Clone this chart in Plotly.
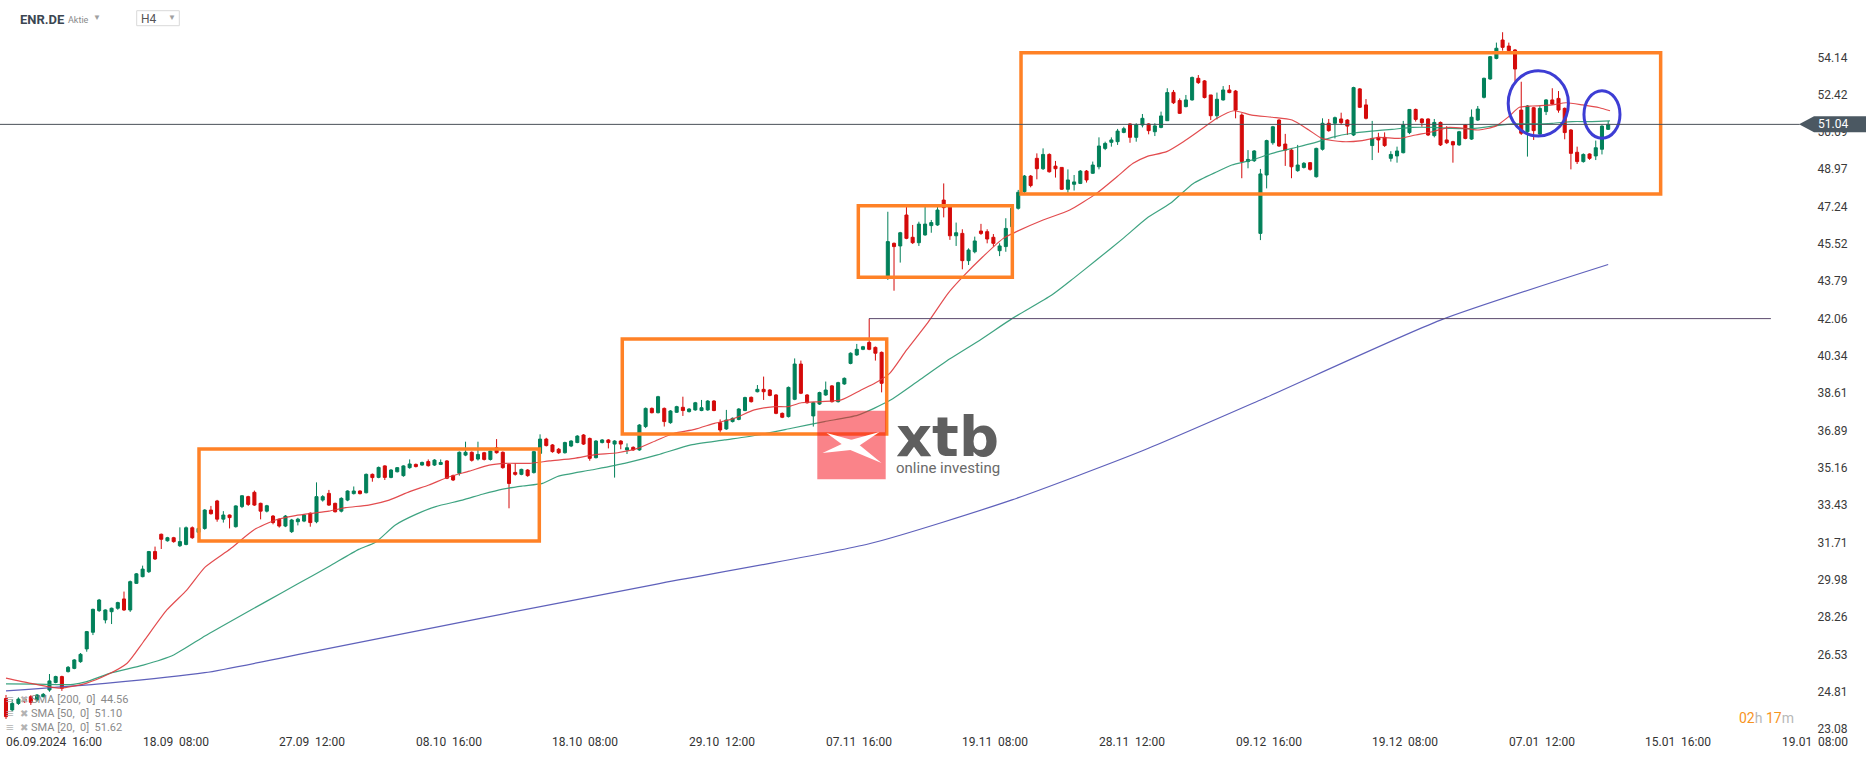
import plotly.graph_objects as go

# ---------------- data ----------------
x_labels = ["06.09.2024\u00a0 16:00", "18.09\u00a0 08:00", "27.09\u00a0 12:00", "08.10\u00a0 16:00",
            "18.10\u00a0 08:00", "29.10\u00a0 12:00", "07.11\u00a0 16:00", "19.11\u00a0 08:00",
            "28.11\u00a0 12:00", "09.12\u00a0 16:00", "19.12\u00a0 08:00", "07.01\u00a0 12:00",
            "15.01\u00a0 16:00", "19.01\u00a0 08:00"]
x_label_idx = [0, 22, 44, 66, 88, 110, 132, 154, 176, 198, 220, 242, 264, 286]

y_ticks = [54.14, 52.42, 50.69, 48.97, 47.24, 45.52, 43.79, 42.06, 40.34, 38.61,
           36.89, 35.16, 33.43, 31.71, 29.98, 28.26, 26.53, 24.81, 23.08]

open_ = [
    24.50, 23.97, 24.27, 24.46, 24.58, 24.43, 24.58, 24.89, 25.24, 25.51,
    25.74, 25.89, 26.20, 26.79, 27.56, 28.56, 28.13, 28.51, 28.67, 29.10,
    28.59, 29.82, 30.13, 30.36, 31.29, 32.09, 31.79, 31.93, 31.56, 31.62,
    32.39, 32.18, 32.36, 33.21, 33.63, 32.79, 32.98, 32.44, 33.37, 33.83,
    34.03, 33.52, 33.16, 32.93, 32.78, 32.47, 32.21, 32.67, 32.70, 33.06,
    32.67, 33.67, 33.98, 33.52, 33.16, 33.67, 33.97, 34.09, 34.01, 34.86,
    34.72, 35.25, 34.72, 34.98, 34.80, 35.17, 35.32, 35.29, 35.45, 35.29,
    35.32, 35.48, 34.80, 34.91, 35.75, 35.88, 35.57, 35.86, 35.55, 36.09,
    35.88, 35.32, 34.95, 34.86, 35.06, 34.94, 35.83, 36.49, 36.22, 36.02,
    35.86, 36.17, 36.33, 36.68, 36.52, 35.63, 36.33, 36.45, 36.26, 36.40,
    35.99, 36.11, 35.99, 37.07, 37.91, 37.71, 37.91, 37.25, 37.73, 37.96,
    37.76, 37.84, 37.81, 37.84, 38.25, 37.25, 36.96, 37.30, 37.40, 37.81,
    38.42, 38.68, 38.79, 38.76, 38.53, 37.68, 37.53, 38.33, 39.96, 38.53,
    37.56, 38.11, 38.53, 38.95, 38.22, 39.04, 39.99, 40.38, 40.64, 40.96,
    40.73, 40.50, 44.00, 45.54, 45.42, 46.85, 45.82, 45.57, 45.93, 46.36,
    46.39, 47.54, 47.24, 45.89, 46.00, 44.74, 45.15, 46.11, 46.08, 45.82,
    45.20, 45.39, 46.31, 47.16, 47.93, 48.65, 49.47, 48.99, 49.65, 49.11,
    49.05, 48.04, 48.27, 48.31, 48.88, 48.78, 49.08, 49.93, 50.21, 50.24,
    50.67, 51.06, 50.44, 51.01, 51.06, 50.70, 50.90, 51.21, 52.52, 52.14,
    51.86, 52.17, 53.17, 53.05, 52.40, 51.44, 52.17, 52.63, 52.58, 51.47,
    49.32, 49.36, 46.00, 48.70, 50.19, 51.24, 50.13, 49.85, 48.90, 49.05,
    49.27, 48.62, 49.89, 51.09, 51.09, 51.29, 51.24, 50.55, 52.68, 51.94,
    50.06, 50.44, 50.44, 49.47, 49.58, 49.73, 50.66, 51.73, 51.29, 51.29,
    50.52, 51.13, 50.32, 50.24, 50.09, 51.01, 50.36, 51.24, 52.29, 53.14,
    54.09, 54.94, 54.66, 54.48, 51.70, 50.70, 51.81, 50.59, 51.63, 52.17,
    52.24, 51.78, 50.78, 49.75, 49.32, 49.67, 49.58, 49.89, 50.81,
]
high = [
    24.66, 24.47, 24.55, 24.55, 24.65, 24.70, 24.75, 25.63, 25.55, 25.55,
    26.00, 26.32, 26.60, 27.62, 28.65, 29.10, 28.62, 28.70, 28.97, 29.44,
    29.95, 30.30, 30.64, 31.32, 31.52, 32.12, 31.97, 31.97, 32.41, 32.45,
    32.45, 32.40, 33.25, 33.40, 33.68, 33.16, 33.00, 33.43, 33.90, 33.87,
    34.11, 33.55, 33.45, 32.98, 32.82, 32.98, 32.80, 32.85, 33.02, 33.10,
    34.49, 33.90, 34.14, 33.55, 33.80, 34.12, 34.30, 34.12, 34.90, 34.90,
    35.22, 35.28, 35.10, 35.20, 35.28, 35.55, 35.36, 35.45, 35.55, 35.56,
    35.55, 35.52, 34.85, 35.92, 36.37, 35.92, 36.37, 35.90, 35.97, 36.49,
    35.92, 35.36, 35.37, 35.12, 35.10, 35.95, 36.71, 36.55, 36.26, 36.08,
    36.37, 36.44, 36.67, 36.72, 36.56, 36.44, 36.49, 36.49, 36.44, 36.44,
    36.29, 36.15, 37.18, 37.95, 37.95, 38.49, 37.95, 37.83, 38.03, 38.45,
    37.92, 38.21, 38.30, 38.29, 38.29, 37.40, 37.84, 37.49, 37.92, 38.45,
    38.46, 38.99, 39.38, 38.80, 38.57, 37.72, 38.92, 40.22, 40.12, 38.57,
    38.21, 38.68, 39.15, 38.99, 39.14, 39.34, 40.50, 40.89, 40.80, 42.06,
    40.77, 40.54, 47.00, 45.58, 46.07, 47.24, 46.39, 46.54, 47.24, 46.62,
    47.24, 48.31, 47.28, 46.50, 46.19, 45.31, 45.85, 46.44, 46.19, 45.97,
    45.54, 46.70, 47.24, 48.01, 48.70, 48.70, 49.70, 49.93, 49.70, 49.35,
    49.05, 48.96, 48.70, 48.93, 48.93, 49.32, 50.44, 50.24, 50.44, 50.83,
    50.93, 51.09, 51.09, 51.52, 51.09, 51.09, 51.63, 52.71, 52.63, 52.24,
    52.40, 53.25, 53.32, 53.09, 52.40, 52.51, 52.81, 52.86, 52.63, 51.55,
    49.85, 49.85, 48.98, 50.33, 50.97, 51.28, 50.60, 49.90, 50.09, 49.30,
    49.30, 49.96, 51.32, 51.29, 51.40, 51.58, 51.28, 52.78, 52.72, 52.21,
    51.20, 50.65, 50.67, 49.80, 50.01, 51.20, 51.75, 51.77, 51.32, 51.32,
    51.29, 51.17, 50.96, 50.28, 50.74, 51.05, 51.73, 51.89, 53.20, 54.20,
    54.82, 55.30, 54.82, 54.52, 53.01, 51.93, 51.85, 51.89, 52.21, 52.71,
    52.58, 51.82, 50.82, 50.01, 49.70, 49.70, 50.29, 51.00, 51.20,
]
low = [
    23.55, 23.89, 24.20, 24.30, 24.20, 24.35, 24.55, 24.81, 25.20, 24.85,
    25.70, 25.85, 26.15, 26.66, 27.43, 28.50, 27.97, 27.94, 28.60, 28.55,
    28.50, 29.80, 30.10, 30.30, 30.90, 31.41, 31.75, 31.70, 31.50, 31.58,
    31.88, 32.10, 32.30, 33.00, 32.67, 32.63, 32.36, 32.40, 33.30, 33.40,
    33.40, 32.78, 33.10, 32.55, 32.40, 32.42, 32.15, 32.50, 32.65, 32.44,
    32.60, 33.60, 33.40, 33.10, 33.10, 33.62, 33.93, 33.93, 33.98, 34.52,
    34.68, 34.60, 34.68, 34.95, 34.75, 35.12, 35.18, 35.26, 35.22, 35.25,
    35.29, 34.64, 34.55, 34.80, 35.70, 35.45, 35.50, 35.50, 35.50, 35.82,
    35.12, 33.29, 34.80, 34.82, 34.75, 34.90, 35.80, 36.15, 35.86, 35.80,
    35.82, 36.12, 36.30, 36.22, 35.49, 35.60, 36.29, 36.06, 34.71, 36.02,
    35.80, 35.95, 35.95, 37.00, 37.68, 37.68, 37.07, 37.20, 37.70, 37.56,
    37.72, 37.80, 37.78, 37.80, 37.78, 36.79, 36.92, 37.26, 37.36, 37.78,
    38.18, 38.65, 38.30, 38.47, 37.64, 37.46, 37.49, 38.29, 38.57, 38.13,
    37.07, 38.07, 38.49, 38.18, 38.18, 39.00, 39.95, 40.34, 40.60, 40.60,
    40.12, 38.65, 43.85, 43.35, 44.65, 45.73, 45.51, 45.42, 45.89, 46.03,
    46.35, 46.74, 45.70, 45.42, 44.34, 44.54, 45.08, 45.93, 45.54, 45.39,
    44.95, 45.15, 46.25, 47.10, 47.85, 48.13, 48.50, 48.93, 48.81, 48.58,
    48.01, 47.88, 47.98, 48.28, 48.35, 48.75, 48.96, 49.85, 50.01, 50.09,
    50.63, 50.19, 50.24, 50.90, 50.58, 50.50, 50.86, 51.21, 51.98, 51.52,
    51.83, 52.14, 52.91, 52.24, 51.24, 51.27, 52.14, 52.48, 51.32, 48.55,
    49.01, 49.30, 45.69, 48.08, 50.10, 50.00, 49.12, 48.55, 48.85, 49.00,
    48.90, 48.58, 49.83, 50.70, 50.39, 51.01, 50.55, 50.50, 51.80, 51.27,
    49.39, 49.73, 50.00, 49.32, 49.27, 49.70, 50.59, 51.17, 50.93, 50.50,
    50.44, 50.04, 50.13, 49.27, 50.05, 50.35, 50.32, 51.20, 52.24, 53.10,
    54.05, 54.45, 54.40, 53.01, 50.55, 49.55, 50.32, 50.55, 51.47, 51.94,
    51.58, 50.35, 48.96, 49.21, 49.27, 49.40, 49.39, 49.65, 50.78,
]
close = [
    23.66, 24.27, 24.47, 24.35, 24.32, 24.66, 24.69, 25.31, 25.51, 24.97,
    25.94, 26.28, 26.54, 27.59, 28.62, 29.05, 28.59, 28.67, 28.93, 28.59,
    29.90, 30.26, 30.48, 31.29, 30.95, 31.86, 31.93, 31.75, 31.75, 32.39,
    31.93, 32.36, 33.21, 33.04, 32.79, 32.98, 32.86, 33.40, 33.87, 33.47,
    33.44, 33.16, 33.41, 32.63, 32.47, 32.93, 32.75, 32.79, 32.98, 32.63,
    33.83, 33.83, 33.44, 33.13, 33.75, 34.09, 34.09, 33.97, 34.86, 34.71,
    35.18, 34.72, 35.06, 35.17, 35.25, 35.34, 35.22, 35.41, 35.26, 35.52,
    35.41, 34.68, 34.60, 35.88, 35.88, 35.51, 35.78, 35.55, 35.94, 35.86,
    35.17, 34.44, 34.86, 35.09, 34.80, 35.91, 36.49, 36.19, 35.91, 35.86,
    36.33, 36.40, 36.63, 36.26, 35.60, 36.40, 36.45, 36.33, 36.40, 36.26,
    36.09, 35.99, 37.14, 37.91, 37.71, 38.45, 37.30, 37.79, 37.99, 37.81,
    37.88, 38.17, 37.94, 38.25, 37.81, 36.91, 37.37, 37.45, 37.88, 38.41,
    38.22, 38.79, 38.68, 38.51, 37.68, 37.50, 38.88, 39.96, 38.61, 38.17,
    38.17, 38.64, 38.76, 38.22, 39.10, 39.30, 40.46, 40.64, 40.76, 40.64,
    40.46, 39.07, 45.62, 45.39, 46.03, 45.77, 45.57, 46.43, 46.43, 46.50,
    47.08, 47.19, 45.89, 46.03, 44.74, 45.23, 45.65, 46.00, 45.74, 45.54,
    45.42, 46.23, 47.16, 47.90, 48.65, 48.21, 48.99, 49.65, 48.85, 48.99,
    48.04, 48.47, 48.38, 48.88, 48.47, 49.16, 50.04, 50.16, 50.32, 50.73,
    50.84, 50.44, 51.01, 51.32, 50.75, 50.97, 51.43, 52.51, 52.04, 51.55,
    52.17, 53.21, 52.97, 52.28, 51.44, 52.20, 52.63, 52.51, 51.70, 49.32,
    49.42, 49.81, 48.75, 50.29, 50.93, 50.04, 49.85, 49.08, 49.16, 49.24,
    48.96, 49.93, 51.09, 50.75, 51.35, 51.12, 50.96, 52.74, 51.83, 51.32,
    50.39, 50.32, 50.06, 49.65, 49.81, 51.01, 51.73, 51.27, 51.12, 50.55,
    51.13, 50.09, 50.19, 50.09, 50.70, 50.39, 51.37, 51.75, 53.17, 54.17,
    54.56, 54.60, 54.45, 53.60, 50.63, 51.89, 50.75, 51.78, 52.17, 51.98,
    51.70, 50.66, 49.70, 49.32, 49.65, 49.47, 49.96, 50.96, 51.04,
]

# moving averages (candle index, value)
sma20_idx = [0, 4, 8.7, 13, 16.2, 19.5, 22.1, 25.9, 29.1, 32.1, 36.1, 39.9, 43.4, 46.6, 49.3, 52,
             54.7, 58.4, 61.7, 65, 68.1, 71.4, 74.6, 77.8, 80.5, 84.3, 87.5, 91.5, 94.7, 98.5,
             101.7, 104.9, 107.6, 110.9, 114.1, 117.3, 120.5, 123.8, 125.9, 128.1, 131.3, 134.5,
             137.7, 139.9, 142.3, 145, 148.5, 151.7, 154.1, 157.3, 160.6, 162.7, 167, 171.3,
             175.6, 178.9, 181.5, 183.7, 186.9, 189.6, 192.3, 195, 197.7, 200.6, 203.9, 207.1,
             209.8, 211.9, 215.2, 218.4, 221.1, 224.3, 227, 229.7, 232.4, 235.1, 237.2, 239.9,
             242, 243.7, 245.8, 249, 251.2, 253.9, 256.6, 258.3]
sma20_val = [25.44, 25.20, 24.98, 25.21, 25.58, 26.13, 27.11, 28.59, 29.51, 30.58, 31.41, 32.29,
             32.75, 32.95, 33.06, 33.16, 33.32, 33.44, 33.67, 34.06, 34.37, 34.75, 35.01, 35.29,
             35.37, 35.37, 35.48, 35.60, 35.76, 35.86, 36.06, 36.45, 36.76, 36.94, 37.22, 37.45,
             37.84, 37.99, 37.99, 38.17, 38.22, 38.30, 38.76, 39.07, 39.53, 40.60, 41.90, 43.23,
             44.00, 44.92, 45.77, 46.08, 46.62, 47.08, 47.85, 48.62, 49.24, 49.55, 49.78, 50.24,
             50.78, 51.32, 51.67, 51.47, 51.37, 51.24, 50.78, 50.39, 50.24, 50.29, 50.44, 50.39,
             50.55, 50.70, 50.90, 50.85, 50.78, 50.96, 51.40, 51.83, 51.89, 51.94, 52.04, 51.94,
             51.81, 51.67]
sma50_idx = [0, 5, 10.8, 13, 16.7, 22.1, 27, 32.1, 37, 42, 47, 52, 56.8, 59.5, 62.7, 66, 69.2,
             73.5, 76.7, 80, 83.2, 86.4, 88.8, 94.2, 99.6, 104.9, 110.3, 115.7, 121.1, 126.5,
             131.8, 137.2, 142.3, 147, 152, 157, 162, 168.4, 171.9, 175.6, 179.9, 183.7, 187.5,
             191.2, 195, 197.4, 200.6, 203.9, 207.1, 210.3, 213.5, 216.8, 220, 223.2, 226.5,
             229.7, 232.9, 236.1, 239.4, 242.6, 245.8, 249, 252.2, 255.4, 258.3]
sma50_val = [25.17, 25.16, 25.15, 25.28, 25.66, 26.04, 26.51, 27.40, 28.20, 29.00, 29.80, 30.60,
             31.39, 31.72, 32.52, 33.01, 33.37, 33.67, 33.94, 34.18, 34.32, 34.44, 34.76, 35.06,
             35.37, 35.76, 36.22, 36.45, 36.68, 36.99, 37.30, 37.60, 38.27, 39.20, 40.20, 41.10,
             42.06, 43.15, 43.92, 44.77, 45.77, 46.70, 47.39, 48.31, 48.85, 49.16, 49.39, 49.70,
             49.93, 50.16, 50.44, 50.63, 50.73, 50.81, 50.90, 50.90, 50.85, 50.85, 50.96, 51.06,
             51.06, 51.09, 51.17, 51.17, 51.20]
sma200_idx = [0, 16, 32, 50, 76, 105, 139, 162, 183, 202, 231, 258]
sma200_val = [24.85, 25.20, 25.69, 26.70, 28.18, 29.80, 31.65, 33.68, 35.95, 38.30, 41.99, 44.56]

legend_rows = ["SMA [200,\u00a0 0]\u00a0 44.56", "SMA [50,\u00a0 0]\u00a0 51.10", "SMA [20,\u00a0 0]\u00a0 51.62"]
last_price = 51.04
level_line = 42.06

assert len(open_) == len(high) == len(low) == len(close) == 259
assert len(sma20_idx) == len(sma20_val) and len(sma50_idx) == len(sma50_val) and len(sma200_idx) == len(sma200_val)

# ---------------- geometry ----------------
W, H = 1866, 759
ML, MR, MT, MB = 0, 61, 0, 24
PW, PH = W - ML - MR, H - MT - MB
STEP = 6.21            # px per candle
X0PX = 6.0             # px of candle 0
x_lo = -X0PX / STEP
x_hi = (PW - X0PX) / STEP
y_lo, y_hi = 22.81, 56.79

def px(x):
    return x / PW

def py(y):
    return 1 - y / PH

GREEN = "#02805a"
RED = "#d40a0a"
FONT = "Roboto"

idx = list(range(len(open_)))

fig = go.Figure()
fig.add_trace(go.Candlestick(
    x=idx, open=open_, high=high, low=low, close=close,
    increasing=dict(line=dict(color=GREEN, width=1), fillcolor=GREEN),
    decreasing=dict(line=dict(color=RED, width=1), fillcolor=RED),
    whiskerwidth=0, showlegend=False, hoverinfo="skip"))

for xs, ys, col in [(sma200_idx, sma200_val, "#4e50b4"),
                    (sma50_idx, sma50_val, "#2a9a74"),
                    (sma20_idx, sma20_val, "#e0393c")]:
    fig.add_trace(go.Scatter(x=xs, y=ys, mode="lines",
                             line=dict(color=col, width=1.2, shape="spline", smoothing=0.6),
                             opacity=0.9, showlegend=False, hoverinfo="skip"))

shapes = []
# orange consolidation boxes
for (a, b, c, d) in [(31.08, 85.88, 31.78, 36.03), (99.24, 141.82, 36.73, 41.12),
                     (137.25, 162.05, 43.97, 47.28), (163.45, 266.45, 47.82, 54.35)]:
    shapes.append(dict(type="rect", xref="x", yref="y", x0=a, x1=b, y0=c, y1=d,
                       line=dict(color="#ff8126", width=3.5), fillcolor="rgba(0,0,0,0)"))
# blue ellipses
for (a, b, c, d) in [(241.9, 251.6, 50.50, 53.52), (254.1, 259.9, 50.40, 52.60)]:
    shapes.append(dict(type="circle", xref="x", yref="y", x0=a, x1=b, y0=c, y1=d,
                       line=dict(color="#3d3dd4", width=3), fillcolor="rgba(0,0,0,0)"))
# level line
shapes.append(dict(type="line", xref="x", yref="y", x0=138.97, x1=284.2, y0=level_line, y1=level_line,
                   line=dict(color="#5a4a6c", width=1)))
# last price line
shapes.append(dict(type="line", xref="paper", yref="y", x0=0, x1=0.997, y0=last_price, y1=last_price,
                   line=dict(color="#4a4f57", width=1)))
# price tag
tag_y = (last_price - y_lo) / (y_hi - y_lo)
shapes.append(dict(type="path", xref="paper", yref="paper", xsizemode="pixel", ysizemode="pixel",
                   xanchor=1.0, yanchor=tag_y,
                   path="M -6,0 L 9,8 L 70,8 L 70,-8 L 9,-8 Z",
                   fillcolor="#4b5862", line=dict(width=0), layer="above"))
# watermark square
shapes.append(dict(type="rect", xref="paper", yref="paper", x0=px(817.3), x1=px(885.7),
                   y0=py(479.3), y1=py(410.7), fillcolor="rgba(245,30,40,0.55)",
                   line=dict(width=0), layer="above"))
# watermark X
for p in ["M -25,12 L 2.4,4.4 L 30,-18 L -2.4,-4.4 Z", "M -29,-8 L -1.7,4.7 L 28,13 L 1.7,-4.7 Z"]:
    shapes.append(dict(type="path", xref="paper", yref="paper", xsizemode="pixel", ysizemode="pixel",
                       xanchor=px(851.5), yanchor=py(445), path=p, fillcolor="white",
                       line=dict(width=0), layer="above"))
# H4 box
shapes.append(dict(type="rect", xref="paper", yref="paper", x0=px(136.7), x1=px(179.3),
                   y0=py(25.7), y1=py(10.7), fillcolor="white", line=dict(color="#d9d9d9", width=1)))

ann = []
def text(x, y, s, size, color, xanchor="left", bold=False, family=FONT, yanchor="middle"):
    ann.append(dict(x=px(x), y=py(y), xref="paper", yref="paper", text=f"<b>{s}</b>" if bold else s,
                    showarrow=False, xanchor=xanchor, yanchor=yanchor, borderpad=0,
                    font=dict(family=family, size=size, color=color)))

# header
text(19, 19, "ENR.DE", 13, "#3b4652", bold=True)
text(67, 20, "Aktie", 9, "#8a8a8a")
text(92, 18, "\u25bc", 8, "#a0a0a0")
text(140, 19, "H4", 12, "#555555")
text(167, 18, "\u25bc", 8, "#a0a0a0")
# legend rows
for k, row in enumerate(legend_rows):
    yy = 699 + 14 * k
    text(5, yy, "\u2261", 14, "#b3b3b3")
    text(19, yy, "\u2716", 10, "#b3b3b3")
    text(30, yy, row, 11, "#8a8a8a")
# timer
ann.append(dict(x=px(1738), y=py(718), xref="paper", yref="paper", showarrow=False, xanchor="left",
                yanchor="middle", borderpad=0,
                text="<span style='color:#f7941d'>02</span><span style='color:#b8b8b8'>h</span> "
                     "<span style='color:#f7941d'>17</span><span style='color:#b8b8b8'>m</span>",
                font=dict(family=FONT, size=14)))
# watermark text (one block: logo word + tagline)
ann.append(dict(x=px(895), y=py(478), xref="paper", yref="paper", showarrow=False,
                xanchor="left", yanchor="bottom", align="left", borderpad=0,
                text="<span style='font-family:DejaVu Sans;font-size:56px;color:#5f5f5f'><b>xtb</b></span>"
                     "<br><span style='font-size:15px;color:#6a6a6a'>online investing</span>",
                font=dict(family=FONT, size=13, color="#6a6a6a")))
# price tag text
ann.append(dict(x=1.0, y=tag_y, xref="paper", yref="paper", text=f"{last_price:.2f}", showarrow=False,
                xanchor="left", yanchor="middle", xshift=12, borderpad=0,
                font=dict(family=FONT, size=12, color="white")))
# x labels
for i, lab in zip(x_label_idx, x_labels):
    ann.append(dict(x=i, y=py(742), xref="x", yref="paper", text=lab, showarrow=False,
                    xanchor="left", yanchor="middle", borderpad=0, xshift=-1,
                    font=dict(family=FONT, size=12, color="#333333")))

fig.update_layout(
    width=W, height=H, margin=dict(l=ML, r=MR, t=MT, b=MB),
    paper_bgcolor="white", plot_bgcolor="white", showlegend=False,
    font=dict(family=FONT),
    xaxis=dict(range=[x_lo, x_hi], showgrid=False, zeroline=False, showticklabels=False,
               rangeslider=dict(visible=False), showline=False, ticks=""),
    yaxis=dict(side="right", range=[y_lo, y_hi], tickvals=y_ticks,
               ticktext=[f"{v:.2f}" for v in y_ticks], showgrid=False, zeroline=False,
               ticks="outside", ticklen=9, tickcolor="rgba(0,0,0,0)", showline=False,
               tickfont=dict(family=FONT, size=12, color="#3a3a3a")),
    shapes=shapes, annotations=ann,
)

fig.write_html("out.html", config={"displayModeBar": False},
               post_script="document.body.style.margin='0';document.body.style.overflow='hidden';")
